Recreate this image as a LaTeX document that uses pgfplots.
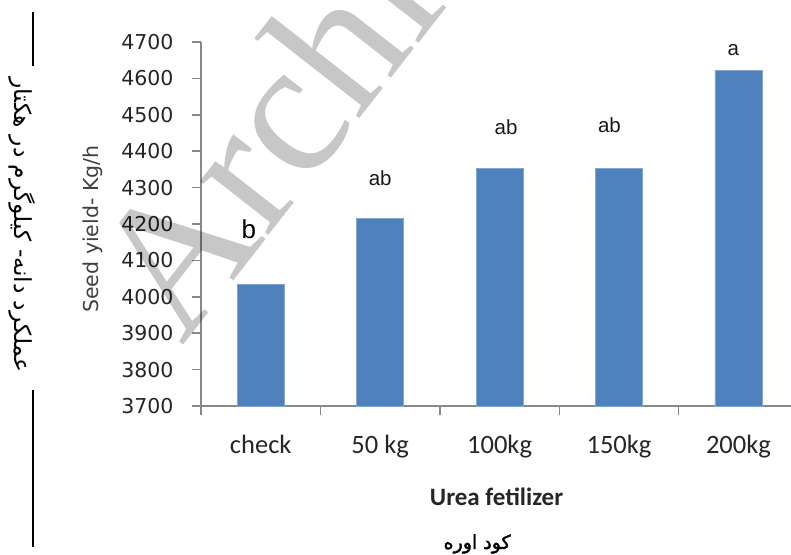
\documentclass[border=0pt]{standalone}
\usepackage{pgfplots}
\pgfplotsset{compat=1.18}
\usepackage{graphicx}
\usepackage{fontspec}
\setmainfont{Liberation Sans}
\newfontfamily\dejavu{DejaVu Sans}
\newfontfamily\carlito{Carlito}
\newfontfamily\arabicfont[Script=Arabic]{DejaVu Sans}
\newfontfamily\arabicbold[Script=Arabic,FakeBold=2]{DejaVu Sans}
\newfontfamily\serifwm{Liberation Serif}
\TeXXeTstate=1
\definecolor{barblue}{HTML}{4F81BD}
\definecolor{axgray}{HTML}{888888}
\begin{document}
\begin{tikzpicture}
\path[use as bounding box] (0,0) rectangle (791pt,554pt);
\begin{axis}[
  at={(201pt,148pt)}, anchor=south west,
  width=590pt, height=364pt, scale only axis,
  xmin=-0.5, xmax=4.44, ymin=3700, ymax=4700,
  axis x line*=bottom, axis y line*=left,
  axis line style={axgray, line width=1.5pt},
  ytick={3700,3800,...,4700},
  scaled y ticks=false,
  /pgf/number format/1000 sep={},
  /pgf/number format/assume math mode=true,
  xtick={0,1,2,3,4},
  xticklabels={check,50 kg,100kg,150kg,200kg},
  minor xtick={-0.5,0.5,1.5,2.5,3.5},
  major x tick style={draw=none},
  minor x tick style={axgray, line width=1.5pt},
  ytick style={axgray, line width=1.5pt},
  tick align=outside,
  major tick length=9pt, minor tick length=9pt,
  yticklabel style={font=\dejavu\fontsize{20.5}{24}\selectfont, text=black!85, xshift=-15pt},
  xticklabel style={font=\carlito\fontsize{26.5}{30}\selectfont, text=black!85, yshift=-17pt},
  ylabel={Seed yield- Kg/h},
  ylabel style={at={(axis description cs:-0.183,0.486)}, anchor=center, font=\dejavu\fontsize{20.5}{22}\selectfont, text=black!75},
  xlabel={Urea fetilizer},
  xlabel style={at={(axis description cs:0.501,-0.2747)}, anchor=base, font=\carlito\bfseries\fontsize{25}{28}\selectfont, text=black!85},
  clip=false,
]
\addplot[ybar, bar width=47pt, fill=barblue, draw=barblue!70!white, line width=0.8pt]
  coordinates {(0,4035) (1,4215) (2,4352) (3,4352) (4,4622)};
\addplot[draw=none, mark=none, nodes near coords, point meta=explicit symbolic,
  every node near coord/.append style={anchor=center, font=\fontsize{20.5}{22}\selectfont, text=black!90}]
  table[meta=label] {
x y label
1.0 4326 ab
2.054 4466 ab
2.92 4472 ab
3.958 4678 a
};
\addplot[draw=none, mark=none, nodes near coords, point meta=explicit symbolic,
  every node near coord/.append style={anchor=center, font=\fontsize{26}{28}\selectfont, text=black}]
  table[meta=label] {
x y label
-0.10 4185 b
};
\node[anchor=center, font=\arabicbold\fontsize{19}{22}\selectfont] at (axis description cs:0.468,-0.379) {\beginR کود اوره\endR};
\end{axis}
\node[rotate=-90, anchor=center] at (22pt,329pt) {\resizebox{295pt}{!}{\arabicfont\fontsize{20}{24}\selectfont\beginR عملکرد دانه- کیلوگرم در هکتار\endR}};
\draw[black, line width=2pt] (33pt,542pt) -- (33pt,488pt);
\draw[black, line width=2pt] (33pt,164pt) -- (33pt,7pt);
\node[rotate=52, anchor=base west, text=black, opacity=0.22, font=\serifwm\fontsize{190}{190}\selectfont] at (180pt,205pt) {Archive};
\end{tikzpicture}
\end{document}
